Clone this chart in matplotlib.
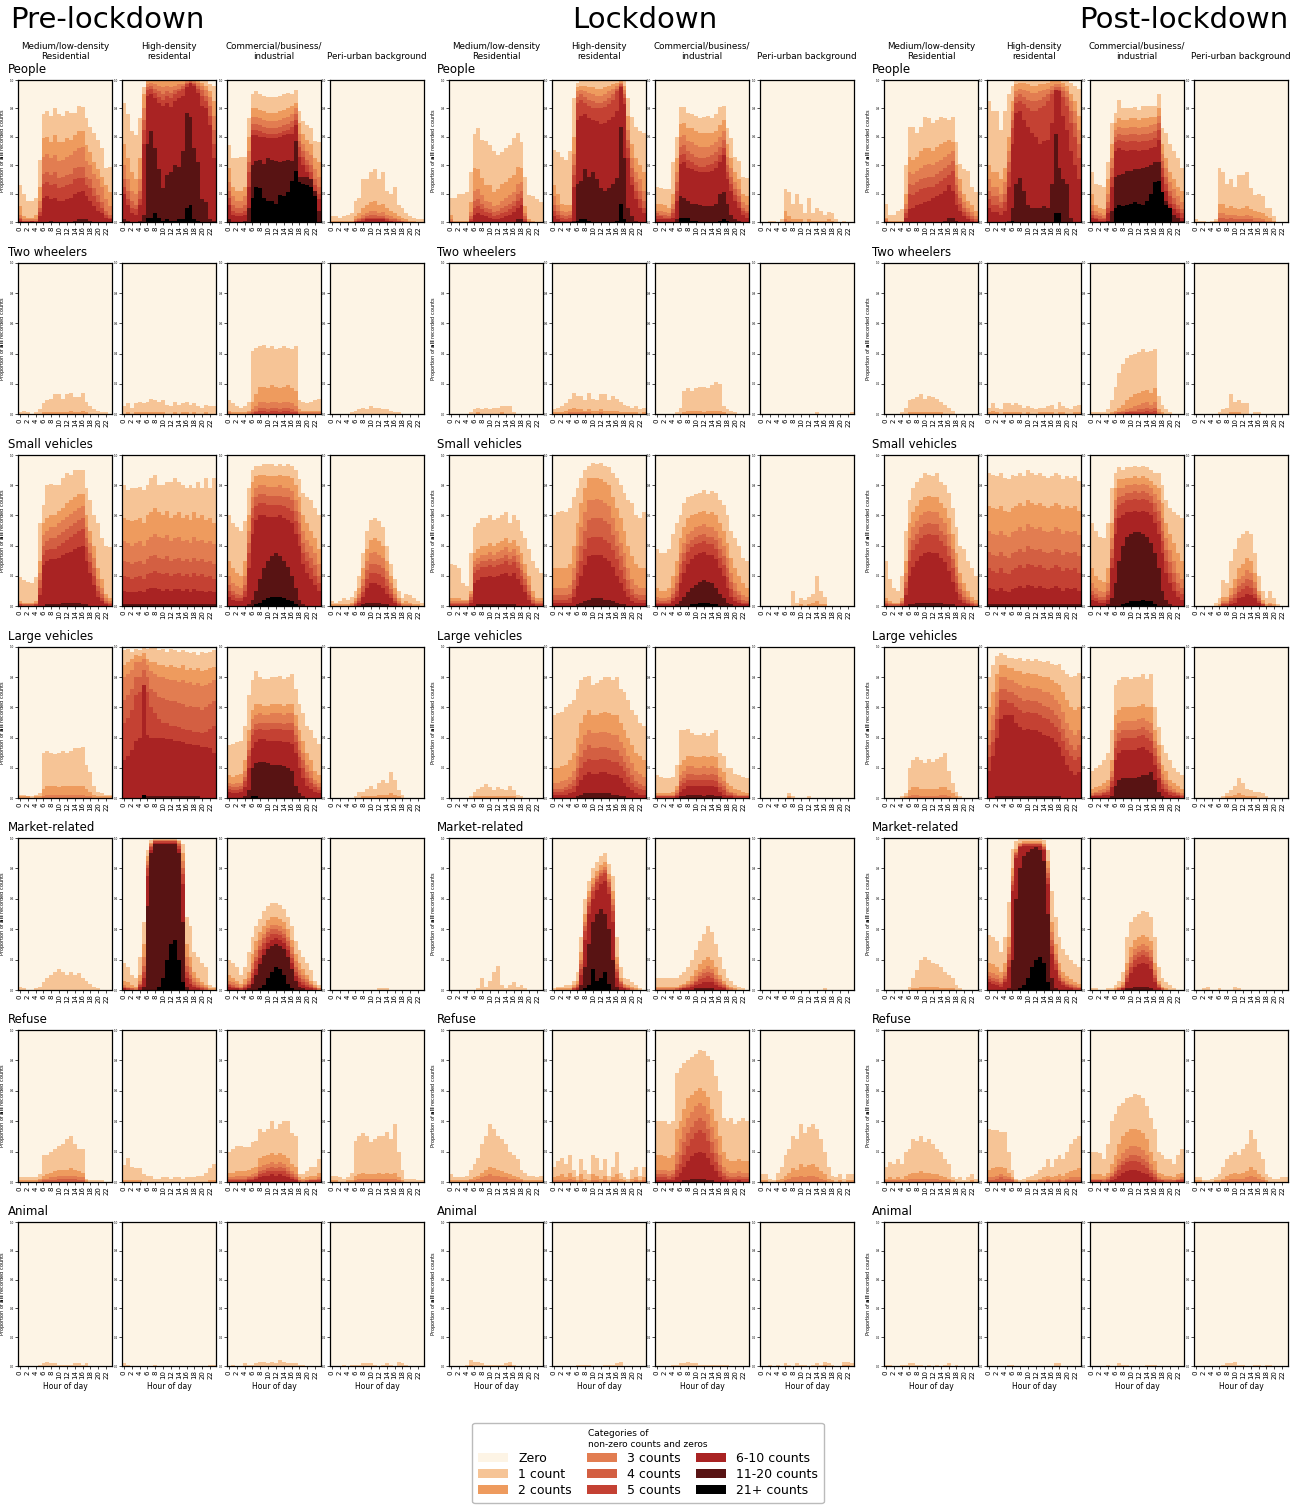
import matplotlib
matplotlib.use("Agg")
import matplotlib.pyplot as plt
from matplotlib.patches import Patch
import numpy as np

HOURS = list(range(24))
CATEGORIES = ["Zero", "1 count", "2 counts", "3 counts", "4 counts", "5 counts",
              "6-10 counts", "11-20 counts", "21+ counts"]
COLOURS = ["#fdf4e5", "#f6c496", "#ee9b5e", "#e27d51", "#d35f42", "#c44133",
           "#a92323", "#581313", "#000000"]
PERIODS = ["Pre-lockdown", "Lockdown", "Post-lockdown"]
LANDUSES = ["Medium/low-density\nResidential", "High-density\nresidental",
            "Commercial/business/\nindustrial", "Peri-urban background"]
OBJECTS = ["People", "Two wheelers", "Small vehicles", "Large vehicles",
           "Market-related", "Refuse", "Animal"]

# each panel: cumulative % of counts >=1, >=2, >=3, >=4, >=5, >=6, >=11, >=21 per hour
# (missing rows are zero); panels ordered as LANDUSES

# ---------------- Pre-lockdown ----------------
PRE_PEOPLE = [
    [[26,20,15,15,17,44,76,78,75,80,76,75,78,77,77,82,81,73,67,63,58,52,38,39],
     [11,4,3,3,5,25,59,60,56,61,56,56,59,58,61,64,64,54,49,42,37,32,26,21],
     [5,2,2,2,2,15,46,48,45,47,43,44,46,47,50,52,53,43,40,34,30,25,16,11],
     [3,1,1,1,1,10,34,35,33,35,31,32,33,34,38,39,39,32,30,24,19,14,8,5],
     [2,1,1,1,1,7,27,28,26,27,24,25,26,27,30,31,31,26,24,18,14,10,5,3],
     [1,0,0,1,0,4,17,18,16,17,15,15,16,17,20,21,22,18,15,11,8,6,3,2],
     [0,0,0,0,0,0,0,0,1,0,0,0,0,0,1,2,2,2,1,0,0,0,0,0]],
    [[84,76,64,61,73,95,100,100,100,100,100,100,100,100,100,100,100,100,100,100,100,100,97,96],
     [55,45,35,30,45,90,99,99,99,99,99,99,99,99,99,99,99,100,100,99,98,96,92,85],
     [40,30,22,20,30,80,97,98,97,96,95,96,95,96,97,97,99,99,99,98,96,93,88,75],
     [30,22,15,12,22,72,95,96,94,92,90,92,91,93,94,96,98,99,98,96,93,89,82,65],
     [25,16,10,9,16,65,93,94,91,88,86,89,87,90,92,94,97,98,97,94,89,85,75,55],
     [20,12,6,5,12,55,89,90,87,84,82,84,81,85,87,89,95,98,96,91,82,80,68,45],
     [2,1,0,0,1,5,55,64,52,37,24,33,35,40,39,50,77,74,52,42,16,14,2,1],
     [0,0,0,0,0,0,3,3,6,3,1,2,1,1,2,2,10,12,2,1,0,0,0,0]],
    [[54,45,45,46,46,73,90,92,90,89,88,88,88,89,90,91,90,93,78,71,68,66,57,56],
     [38,25,22,22,25,60,80,80,79,78,77,77,77,78,79,80,82,84,70,62,58,55,45,42],
     [28,18,15,15,18,50,74,74,73,72,71,71,71,72,73,74,76,80,62,55,50,47,37,32],
     [22,12,10,10,12,42,69,69,68,67,66,66,66,67,68,69,71,76,57,50,44,40,30,25],
     [17,8,6,6,8,35,65,65,64,63,62,62,62,63,64,65,67,72,53,46,40,35,26,20],
     [12,5,4,4,5,25,61,61,60,60,59,59,59,60,61,62,62,68,46,40,35,30,22,16],
     [2,0,0,0,1,10,40,43,44,41,45,44,43,42,43,44,43,57,32,32,32,31,28,8],
     [0,0,0,0,0,0,17,25,24,17,15,15,13,19,18,21,29,36,28,27,26,25,18,0]],
    [[4,4,3,4,5,6,15,17,30,30,35,37,30,35,22,20,25,12,10,6,4,3,2,2],
     [1,1,1,1,1,1,4,6,10,12,14,15,12,13,10,8,6,4,3,2,1,1,0,0],
     [0,0,0,0,0,0,2,3,5,6,8,8,6,7,5,4,3,2,1,1,0,0,0,0],
     [0,0,0,0,0,0,1,2,3,4,5,5,4,4,3,2,2,1,1,0,0,0,0,0],
     [0,0,0,0,0,0,1,1,2,3,3,3,3,3,2,1,1,1,0,0,0,0,0,0],
     [0,0,0,0,0,0,0,1,1,2,2,2,2,2,1,1,0,0,0,0,0,0,0,0]],
]
PRE_TWO_WHEELERS = [
    [[1,2,1,0,1,3,7,9,10,13,13,10,13,14,11,11,14,8,5,3,2,1,1,0],
     [0,0,0,0,0,0,1,1,1,1,1,1,1,2,1,1,2,1,0,0,0,0,0,0]],
    [[5,7,4,7,8,7,8,10,9,8,9,6,5,8,6,7,8,6,7,5,4,6,5,5],
     [0,1,0,1,1,1,1,1,1,1,1,0,0,1,0,1,1,0,1,0,0,1,0,0]],
    [[9,7,5,4,5,8,42,44,45,46,44,45,43,44,45,44,43,45,9,8,7,8,9,10],
     [2,1,1,1,1,2,8,13,18,18,17,19,18,17,18,19,17,15,3,2,2,2,2,2],
     [1,0,0,0,0,1,3,5,8,8,7,8,8,7,8,8,7,5,1,1,1,1,1,1],
     [0,0,0,0,0,0,1,2,4,4,3,4,4,3,4,4,3,2,0,0,0,0,0,0],
     [0,0,0,0,0,0,0,1,2,2,1,2,2,1,2,2,1,1,0,0,0,0,0,0]],
    [[0,0,0,0,0,1,2,3,4,3,5,4,4,3,3,2,1,1,0,0,0,0,0,0]],
]
PRE_SMALL_VEHICLES = [
    [[19,17,16,15,19,55,67,80,81,80,80,85,88,87,90,90,90,78,70,60,55,45,40,39],
     [3,2,2,2,3,30,55,58,60,60,63,65,68,70,72,74,74,60,50,40,25,18,8,5],
     [2,1,1,1,2,22,47,50,52,52,55,57,59,61,63,65,66,52,42,32,18,12,5,3],
     [1,1,1,1,1,17,40,43,45,45,47,49,51,53,55,57,58,45,35,25,13,8,3,2],
     [1,0,0,0,1,12,34,37,38,38,40,42,44,46,48,50,51,39,29,20,10,5,2,1],
     [0,0,0,0,0,7,27,30,31,31,32,34,35,36,38,39,40,30,22,14,6,3,1,0],
     [0,0,0,0,0,0,0,1,1,1,1,2,2,2,2,2,1,1,0,0,0,0,0,0]],
    [[80,77,78,78,79,77,80,85,87,80,80,82,82,85,82,80,78,80,78,82,78,85,78,85],
     [58,57,56,57,58,55,60,62,65,62,60,63,58,60,62,58,60,57,62,58,60,57,58,55],
     [43,42,40,42,43,40,44,46,48,46,45,47,43,45,46,43,44,42,46,43,44,42,43,41],
     [30,29,28,29,30,28,31,33,34,32,31,33,30,31,32,30,31,29,32,30,31,29,30,28],
     [20,19,18,19,20,18,21,22,23,22,21,22,20,21,22,20,21,19,22,20,21,19,20,18],
     [10,9,9,9,10,9,11,12,12,11,10,11,10,11,11,10,11,9,11,10,10,9,10,9],
     [1,1,1,1,1,1,1,1,1,1,1,1,1,1,1,1,1,1,1,1,1,1,1,1]],
    [[60,55,52,50,56,78,90,93,93,94,94,94,93,94,93,94,93,90,84,75,72,70,65,60],
     [30,25,22,20,30,60,82,86,87,87,86,86,86,87,86,86,85,80,72,60,55,50,45,38],
     [20,15,13,12,20,50,72,78,80,80,79,79,79,80,78,78,76,70,62,50,44,40,35,28],
     [14,10,8,7,14,42,65,72,74,74,73,73,73,73,72,72,70,63,55,42,36,32,27,20],
     [10,7,5,5,10,35,58,66,68,68,67,67,67,67,66,65,63,56,48,35,30,25,20,15],
     [6,4,3,3,6,25,48,57,60,60,59,59,59,60,58,57,55,48,40,28,22,18,14,10],
     [0,0,0,0,0,1,4,10,18,25,30,33,35,33,30,26,20,12,4,1,0,0,0,0],
     [0,0,0,0,0,0,0,1,2,4,5,6,6,6,5,4,3,1,0,0,0,0,0,0]],
    [[3,2,3,5,4,6,10,20,35,50,57,58,56,52,40,28,18,10,5,8,7,5,3,2],
     [1,1,1,1,1,2,5,12,25,38,44,45,43,40,30,20,12,5,2,3,2,1,1,0],
     [0,0,0,0,0,1,3,8,18,30,35,36,34,32,23,15,8,3,1,1,1,0,0,0],
     [0,0,0,0,0,0,2,5,13,24,28,28,27,25,18,11,5,2,0,0,0,0,0,0],
     [0,0,0,0,0,0,1,3,9,18,22,22,21,19,13,8,3,1,0,0,0,0,0,0],
     [0,0,0,0,0,0,0,2,6,12,15,15,14,12,8,5,2,0,0,0,0,0,0,0],
     [0,0,0,0,0,0,0,0,1,2,2,2,2,1,1,0,0,0,0,0,0,0,0,0]],
]
PRE_LARGE_VEHICLES = [
    [[2,2,1,1,2,3,30,31,30,29,30,31,30,31,33,33,34,22,17,8,4,3,2,2],
     [1,1,1,0,1,1,6,8,8,8,7,8,8,8,8,8,8,6,4,2,1,1,1,1],
     [0,0,0,0,0,0,1,2,2,2,2,2,2,2,2,2,2,1,1,0,0,0,0,0]],
    [[98,99,97,99,98,100,99,100,100,98,99,97,99,98,97,98,97,96,97,95,97,96,97,98],
     [88,90,92,95,94,96,92,90,90,88,88,87,88,87,86,88,85,86,85,86,84,85,86,87],
     [80,82,85,90,90,92,88,84,82,80,80,79,78,78,77,78,76,77,75,76,74,75,76,78],
     [65,68,72,80,80,85,80,72,70,67,66,65,64,64,63,62,60,61,60,60,58,60,62,64],
     [50,53,58,68,70,75,70,60,56,52,50,50,48,48,47,46,45,45,44,44,43,44,46,48],
     [25,28,32,38,40,92,42,40,40,40,40,39,39,38,38,37,36,36,35,35,34,34,33,30],
     [0,0,0,0,0,2,1,1,1,1,1,1,1,1,1,1,1,1,1,1,0,0,0,0],
     [0,0,0,0,0,6,0,0,0,0,0,0,0,0,0,0,0,0,0,0,0,0,0,0]],
    [[35,36,37,38,48,68,78,84,80,79,79,80,80,81,79,80,82,72,62,56,48,45,40,36],
     [15,14,15,16,25,45,58,62,62,61,61,62,62,62,61,62,62,55,45,38,30,25,18,15],
     [10,9,10,10,18,38,52,55,56,55,55,56,56,56,55,56,56,48,38,30,22,18,12,10],
     [8,7,7,8,14,32,46,49,50,50,50,50,50,50,49,50,50,42,32,25,17,13,9,7],
     [6,5,5,6,11,28,42,45,46,45,45,46,46,46,45,45,45,37,27,20,13,10,7,5],
     [4,3,3,4,7,20,33,37,39,39,38,38,38,38,37,37,36,30,20,13,8,6,4,3],
     [0,0,0,0,1,5,20,23,24,24,23,22,22,22,21,20,18,8,3,1,0,0,0,0],
     [0,0,0,0,0,0,1,1,0,0,0,0,0,0,0,0,0,0,0,0,0,0,0,0]],
    [[0,0,0,0,0,0,1,4,4,6,8,6,10,12,10,17,12,5,2,0,0,0,0,0],
     [0,0,0,0,0,0,0,0,1,1,1,1,2,2,2,3,2,1,0,0,0,0,0,0]],
]
PRE_MARKET = [
    [[2,1,0,0,1,2,5,8,10,12,14,12,10,12,10,11,8,6,4,2,1,0,0,0]],
    [[18,15,10,8,22,45,92,99,100,100,100,100,100,100,99,96,48,42,25,22,18,15,3,2],
     [6,5,3,2,10,30,88,97,99,99,99,99,99,99,98,90,30,22,12,8,5,3,1,1],
     [3,2,1,1,6,22,85,96,99,99,99,99,99,99,97,85,22,15,8,5,3,2,0,0],
     [2,1,1,0,4,16,82,95,98,98,98,98,98,98,96,80,16,10,5,3,2,1,0,0],
     [1,1,0,0,3,12,80,94,98,98,98,98,98,98,95,76,12,7,3,2,1,0,0,0],
     [1,0,0,0,2,8,75,92,97,97,97,97,97,97,93,70,8,4,2,1,0,0,0,0],
     [0,0,0,0,0,2,55,90,96,96,96,96,96,96,90,45,2,0,0,0,0,0,0,0],
     [0,0,0,0,0,0,0,0,0,2,8,20,30,33,20,5,0,0,0,0,0,0,0,0]],
    [[20,18,15,10,15,25,35,42,47,52,55,57,57,56,53,48,42,32,26,22,18,13,6,3],
     [10,8,6,4,7,12,24,32,38,42,46,48,48,47,45,40,33,24,18,14,10,6,3,1],
     [6,5,4,2,4,8,18,26,33,37,41,43,43,42,40,35,28,19,13,10,7,4,2,1],
     [4,3,2,1,3,6,14,22,29,34,38,40,40,39,37,32,24,15,10,7,5,3,1,0],
     [3,2,1,1,2,4,11,19,26,31,35,37,37,36,34,29,21,12,8,5,3,2,1,0],
     [2,1,1,0,1,3,8,14,21,27,31,33,34,33,31,26,18,9,5,3,2,1,0,0],
     [0,0,0,0,0,1,4,10,17,23,27,29,30,29,27,22,14,6,2,1,0,0,0,0],
     [0,0,0,0,0,0,0,0,1,3,8,12,15,14,10,4,1,0,0,0,0,0,0,0]],
    [[0,0,0,0,0,0,0,0,0,0,0,0,1,1,1,0,0,0,0,0,0,0,0,0]],
]
PRE_REFUSE = [
    [[3,3,3,3,3,5,18,18,20,22,24,25,28,30,25,22,22,2,1,1,1,1,0,0],
     [1,1,1,1,1,2,4,5,6,7,8,8,8,9,8,7,6,1,0,0,0,0,0,0],
     [0,0,0,0,0,1,2,2,3,3,4,4,4,4,4,3,3,0,0,0,0,0,0,0],
     [0,0,0,0,0,0,1,1,1,1,2,2,2,2,2,1,1,0,0,0,0,0,0,0]],
    [[11,16,10,9,9,5,4,4,2,2,3,3,2,3,3,2,3,3,3,4,4,6,9,12],
     [1,1,1,1,1,0,0,0,0,0,0,0,0,0,0,0,0,0,0,0,0,0,1,1]],
    [[20,22,24,24,23,23,26,27,35,33,35,40,35,38,40,40,32,30,5,5,7,10,10,15],
     [6,6,7,7,7,8,9,10,16,17,18,19,18,19,18,16,12,10,3,2,3,4,4,6],
     [3,3,4,4,4,4,5,6,10,11,12,13,12,13,12,10,7,5,1,1,1,2,2,3],
     [2,2,2,2,2,3,3,4,7,8,9,10,9,10,9,7,5,3,1,0,1,1,1,2],
     [1,1,1,1,1,2,2,3,5,6,7,7,7,7,7,5,3,2,0,0,0,1,1,1],
     [0,0,0,0,0,1,1,2,3,4,4,5,4,5,4,3,2,1,0,0,0,0,0,0]],
    [[4,4,3,2,3,6,27,30,32,30,26,28,30,30,33,28,38,20,8,2,2,2,1,1],
     [1,1,0,0,1,1,4,5,6,5,5,5,6,5,6,5,6,3,1,0,0,0,0,0],
     [0,0,0,0,0,0,1,2,2,2,2,2,2,2,2,2,2,1,0,0,0,0,0,0]],
]
PRE_ANIMAL = [
    [[0,0,0,0,0,1,2,3,2,2,1,1,1,1,2,2,1,2,0,0,0,0,0,0]],
    [[2,1,0,0,0,0,0,0,1,0,0,0,0,0,0,0,0,0,0,0,0,0,1,1]],
    [[0,1,0,0,2,1,1,2,3,3,2,3,2,4,3,2,2,2,1,1,0,0,0,0]],
    [[0,0,0,1,0,1,1,1,2,2,2,1,0,1,2,1,0,3,2,1,0,0,0,0]],
]

# ---------------- Lockdown ----------------
LOCK_PEOPLE = [
    [[17,17,20,20,21,35,62,66,58,57,54,50,47,49,52,54,59,63,56,32,19,18,16,14],
     [5,1,1,1,1,14,38,37,31,26,26,21,23,27,28,31,33,39,38,11,2,1,0,0],
     [2,0,0,0,0,7,22,23,19,15,14,11,12,15,17,19,21,27,28,6,1,0,0,0],
     [1,0,0,0,0,4,15,16,13,10,9,7,8,10,11,13,15,20,22,4,0,0,0,0],
     [0,0,0,0,0,2,10,11,9,7,6,4,5,6,7,9,11,15,17,2,0,0,0,0],
     [0,0,0,0,0,1,5,6,5,4,3,2,2,3,4,5,7,10,12,1,0,0,0,0],
     [0,0,0,0,0,0,0,0,0,0,0,0,0,0,0,0,0,2,2,0,0,0,0,0]],
    [[51,49,46,44,50,87,98,99,99,99,100,99,99,100,99,99,99,100,99,87,74,67,64,63],
     [26,20,13,12,12,60,95,96,96,95,95,94,94,95,96,97,98,99,96,75,55,45,40,35],
     [18,12,8,7,8,48,92,93,92,91,90,89,89,90,92,94,96,98,93,65,45,35,30,22],
     [12,8,5,4,5,40,88,90,88,86,85,84,84,85,87,90,94,97,90,58,38,28,22,15],
     [8,5,3,2,3,33,84,86,84,82,80,80,80,81,83,86,92,96,87,52,32,22,16,10],
     [4,2,1,1,1,25,72,75,76,73,72,71,69,70,72,74,78,95,83,45,26,16,10,6],
     [0,0,0,0,0,1,27,29,37,32,35,30,24,22,24,27,31,67,45,10,4,1,0,0],
     [0,0,0,0,0,0,1,2,2,1,0,0,0,0,0,0,1,13,2,0,0,0,0,0]],
    [[25,24,23,23,42,60,81,81,77,76,75,73,74,75,73,76,81,82,66,59,46,43,32,31],
     [13,13,12,10,20,45,69,70,66,66,64,63,63,63,63,64,68,72,55,45,35,30,20,18],
     [8,8,7,6,13,35,60,61,57,56,54,53,53,53,54,56,60,64,46,38,28,23,14,12],
     [6,5,5,4,9,28,53,54,50,48,46,45,45,46,47,49,53,58,40,32,23,18,10,8],
     [4,4,3,3,6,22,47,48,44,42,40,39,39,40,41,43,47,52,35,27,19,14,8,6],
     [2,2,2,2,3,15,41,42,38,37,36,35,35,35,36,38,42,47,30,22,15,10,5,3],
     [0,0,0,0,0,2,18,17,15,13,13,12,11,11,11,13,20,21,13,5,2,1,0,0],
     [0,0,0,0,0,0,3,3,3,1,1,0,0,0,0,0,1,2,1,0,0,0,0,0]],
    [[0,0,1,1,0,2,23,21,13,20,13,6,17,6,10,8,5,7,6,2,0,1,0,0],
     [0,0,0,0,0,0,8,4,2,2,2,0,2,1,1,1,1,2,1,0,0,0,0,0],
     [0,0,0,0,0,0,2,1,0,0,0,0,0,0,0,0,0,0,0,0,0,0,0,0]],
]
LOCK_TWO_WHEELERS = [
    [[0,0,0,0,0,1,3,4,3,4,3,4,4,5,5,5,1,0,0,0,0,0,0,0],
     [0,0,0,0,0,0,0,1,0,0,0,0,0,1,0,0,0,0,0,0,0,0,0,0]],
    [[3,4,5,7,10,14,12,12,9,14,10,9,13,13,9,12,10,8,6,5,4,5,3,4],
     [1,1,1,2,3,4,3,3,2,3,2,2,3,2,2,2,2,1,1,1,1,1,0,1],
     [0,0,0,0,1,1,1,1,1,1,0,0,1,0,0,0,0,0,0,0,0,0,0,0]],
    [[0,0,0,0,0,1,4,15,17,15,17,18,18,17,19,21,20,5,3,2,1,0,0,0],
     [0,0,0,0,0,0,0,1,2,2,2,2,1,2,2,2,2,1,0,0,0,0,0,0]],
    [[0,0,0,0,0,0,0,0,0,0,0,0,0,0,1,0,0,0,0,0,0,0,0,1]],
]
LOCK_SMALL_VEHICLES = [
    [[28,27,25,15,13,35,52,55,58,58,60,57,58,60,62,55,60,57,50,45,38,30,25,22],
     [5,5,5,4,4,10,35,38,40,40,42,40,42,43,45,42,44,40,35,28,20,10,5,5],
     [3,3,3,3,3,8,30,32,34,34,36,34,36,37,39,36,38,34,28,22,14,6,3,3],
     [2,2,2,2,2,6,26,28,30,30,31,30,31,32,34,31,33,29,24,18,10,4,2,2],
     [1,1,1,1,1,4,22,24,26,26,27,26,27,28,30,27,29,25,20,14,7,2,1,1],
     [0,0,0,0,0,2,15,17,19,19,20,19,20,21,22,20,22,18,14,9,4,1,0,0],
     [0,0,0,0,0,0,0,1,1,1,1,1,1,1,1,1,1,0,0,0,0,0,0,0]],
    [[60,62,63,62,65,72,78,85,90,93,95,94,95,93,92,88,85,80,75,70,68,60,58,62],
     [25,25,25,25,28,40,55,68,78,85,85,85,84,82,80,72,65,58,50,40,33,28,25,25],
     [12,12,12,12,14,25,40,52,62,70,70,71,70,68,66,58,50,42,35,25,18,14,12,12],
     [7,7,7,7,8,17,30,40,50,57,58,58,58,56,54,47,40,33,26,17,11,8,7,7],
     [4,4,4,4,5,11,22,30,38,45,46,46,46,44,42,37,31,24,18,11,7,5,4,4],
     [2,2,2,2,2,6,13,20,27,33,34,34,34,32,30,26,20,15,10,6,3,2,2,2],
     [0,0,0,0,0,0,1,2,3,4,5,5,5,4,4,3,2,1,1,0,0,0,0,0]],
    [[38,35,35,38,48,55,60,68,72,73,74,75,77,74,76,75,70,67,60,50,45,40,32,30],
     [12,10,10,12,20,30,45,52,58,60,61,62,63,61,62,60,55,50,42,32,25,20,15,12],
     [6,5,5,6,12,20,35,42,48,50,52,53,54,52,52,50,45,40,32,22,15,10,7,6],
     [4,3,3,4,8,15,28,35,41,44,46,47,48,46,46,44,38,33,25,16,10,7,4,3],
     [2,2,2,2,5,10,22,30,36,39,41,42,43,41,41,38,32,27,19,11,6,4,2,2],
     [1,1,1,1,3,6,15,22,28,31,34,35,36,34,34,31,25,20,12,6,3,2,1,1],
     [0,0,0,0,0,1,3,6,9,12,14,16,17,16,15,12,8,5,2,1,0,0,0,0],
     [0,0,0,0,0,0,0,0,0,1,1,2,2,2,1,1,0,0,0,0,0,0,0,0]],
    [[0,0,0,0,0,0,0,0,10,2,5,4,6,8,20,10,6,0,0,0,0,0,0,0],
     [0,0,0,0,0,0,0,0,0,0,1,0,1,2,3,1,1,0,0,0,0,0,0,0]],
]
LOCK_LARGE_VEHICLES = [
    [[0,0,0,0,0,1,4,6,7,9,7,5,7,6,5,8,5,2,1,0,0,0,0,0],
     [0,0,0,0,0,0,1,1,1,1,1,1,1,1,1,1,1,0,0,0,0,0,0,0]],
    [[55,56,57,60,62,65,72,78,80,81,75,76,78,80,80,78,80,72,70,65,58,55,50,48],
     [20,20,21,22,25,30,40,50,55,58,55,55,56,57,56,55,55,50,45,40,35,30,28,25],
     [10,10,11,12,14,18,28,36,42,45,43,43,44,44,43,42,42,37,33,28,23,18,16,14],
     [6,6,6,7,9,12,20,27,32,35,33,33,34,34,33,32,32,28,24,20,15,11,9,8],
     [4,4,4,5,6,8,14,20,24,26,25,25,26,26,25,24,24,21,18,14,10,7,6,5],
     [2,2,2,2,3,4,8,12,15,17,16,16,17,17,16,15,15,13,10,7,5,3,2,2],
     [0,0,0,0,0,0,1,2,3,3,3,3,3,3,3,2,2,1,1,0,0,0,0,0]],
    [[15,14,13,13,14,22,45,45,46,43,42,42,43,41,43,45,30,28,20,20,16,15,14,13],
     [3,3,3,3,4,8,22,25,28,28,27,27,28,27,28,27,20,17,10,8,6,5,4,3],
     [2,2,2,2,2,5,15,18,21,21,20,20,21,20,21,20,14,11,6,4,3,2,2,2],
     [1,1,1,1,1,3,11,13,16,16,15,15,16,15,16,15,10,8,4,3,2,1,1,1],
     [1,1,1,1,1,2,8,10,12,12,12,12,12,12,12,11,7,5,2,2,1,1,1,1],
     [0,0,0,0,0,1,4,6,8,8,8,8,8,8,8,7,4,2,1,1,0,0,0,0],
     [0,0,0,0,0,0,1,1,2,2,2,2,1,2,2,1,1,0,0,0,0,0,0,0]],
    [[0,0,0,0,0,0,0,3,1,0,0,0,1,0,0,0,0,0,0,0,0,0,0,0],
     [0,0,0,0,0,0,0,1,0,0,0,0,0,0,0,0,0,0,0,0,0,0,0,0]],
]
LOCK_MARKET = [
    [[0,0,0,0,0,0,0,1,8,2,6,12,16,3,1,3,5,2,3,1,0,0,0,0]],
    [[1,2,2,3,3,6,12,35,60,72,80,84,88,90,83,75,35,15,8,7,5,3,1,0],
     [0,1,1,1,1,3,6,25,50,65,74,78,82,84,76,65,22,8,4,3,2,1,0,0],
     [0,0,0,0,0,2,4,20,45,61,70,75,79,81,73,60,17,6,3,2,1,0,0,0],
     [0,0,0,0,0,1,3,17,42,58,68,73,77,79,71,56,14,5,2,1,0,0,0,0],
     [0,0,0,0,0,1,2,14,39,55,65,71,75,77,68,52,12,4,1,1,0,0,0,0],
     [0,0,0,0,0,0,1,10,33,50,60,66,70,72,63,45,8,2,1,0,0,0,0,0],
     [0,0,0,0,0,0,0,3,15,30,45,50,53,50,40,20,2,0,0,0,0,0,0,0],
     [0,0,0,0,0,0,0,0,1,3,14,6,8,12,4,0,0,0,0,0,0,0,0,0]],
    [[8,8,8,8,8,8,10,12,15,20,26,32,37,42,38,30,22,14,8,6,3,2,1,0],
     [2,2,2,2,2,2,3,4,6,9,13,17,20,22,20,15,10,6,3,2,1,0,0,0],
     [1,1,1,1,1,1,2,3,4,6,9,12,14,16,14,10,7,4,2,1,0,0,0,0],
     [0,0,0,0,0,1,1,2,3,4,6,9,11,12,11,7,5,3,1,0,0,0,0,0],
     [0,0,0,0,0,0,1,1,2,3,5,7,8,9,8,5,3,2,0,0,0,0,0,0],
     [0,0,0,0,0,0,0,1,1,2,3,4,5,5,5,3,2,1,0,0,0,0,0,0],
     [0,0,0,0,0,0,0,0,0,0,1,1,1,1,1,0,0,0,0,0,0,0,0,0]],
    [[0,0,0,0,0,0,0,0,0,0,0,0,0,0,0,0,1,0,0,0,0,0,0,0]],
]
LOCK_REFUSE = [
    [[5,3,3,3,4,8,12,16,25,30,38,35,30,28,25,20,18,15,8,6,4,4,3,4],
     [1,1,1,1,1,2,3,4,6,8,10,9,8,7,6,5,4,3,2,1,1,1,1,1],
     [0,0,0,0,0,1,1,2,3,4,5,4,4,3,3,2,2,1,1,0,0,0,0,0]],
    [[10,14,16,12,18,8,4,15,8,5,18,16,8,15,4,10,20,6,3,2,8,10,4,10],
     [3,4,5,3,6,3,1,5,2,1,5,4,2,4,1,3,5,2,1,0,2,3,1,3],
     [1,1,1,1,2,1,0,1,0,0,1,1,0,1,0,1,1,0,0,0,0,1,0,1]],
    [[40,40,40,38,40,72,75,78,80,82,84,87,86,83,80,70,60,42,40,42,38,40,42,40],
     [18,18,17,16,18,35,40,48,55,57,60,62,60,56,48,40,30,20,15,14,14,15,14,14],
     [8,8,8,7,8,20,28,36,42,46,50,52,50,45,36,28,18,10,7,6,6,7,6,6],
     [5,5,5,4,5,12,18,26,32,36,40,42,40,35,26,19,11,6,4,3,3,4,3,3],
     [3,3,3,2,3,8,12,18,24,28,32,34,32,27,19,13,7,4,2,2,2,2,2,2],
     [1,1,1,1,1,3,6,10,14,17,19,20,19,16,11,7,3,1,1,0,0,1,0,0],
     [0,0,0,0,0,0,0,1,1,2,2,2,2,1,1,0,0,0,0,0,0,0,0,0]],
    [[5,5,2,1,6,10,18,22,30,28,38,32,36,38,35,28,20,10,4,3,5,2,5,5],
     [1,1,0,0,1,2,4,6,9,8,12,10,11,12,10,7,5,2,1,0,1,0,1,1],
     [0,0,0,0,0,0,1,2,3,3,4,3,4,4,3,2,1,0,0,0,0,0,0,0]],
]
LOCK_ANIMAL = [
    [[0,0,0,0,1,4,3,3,2,1,1,1,1,1,2,3,1,0,0,0,0,0,0,0],
     [0,0,0,0,0,1,0,0,0,0,0,0,0,0,0,1,0,0,0,0,0,0,0,0]],
    [[0,0,0,0,0,0,1,1,1,1,0,0,0,1,1,1,2,3,0,0,0,0,0,0]],
    [[0,0,0,0,1,1,2,2,3,2,2,1,1,1,1,1,1,1,1,0,0,0,0,0]],
    [[0,0,1,0,1,0,2,1,0,2,1,1,0,1,2,1,3,2,1,0,0,3,3,2],
     [0,0,0,0,0,0,0,0,0,0,0,0,0,0,0,0,1,0,0,0,0,1,1,0]],
]

# ---------------- Post-lockdown ----------------
POST_PEOPLE = [
    [[13,5,5,8,9,40,67,67,63,67,74,73,70,72,74,73,72,74,56,41,37,36,25,21],
     [3,1,1,1,1,20,46,44,46,50,52,52,50,53,55,56,58,56,40,30,20,15,12,8],
     [2,0,0,0,0,13,35,34,36,38,40,41,40,42,44,46,48,50,32,22,14,10,7,4],
     [1,0,0,0,0,9,27,26,28,30,31,32,32,34,36,38,40,43,26,17,10,7,4,2],
     [0,0,0,0,0,6,20,19,21,23,24,25,25,27,29,31,33,36,20,13,7,4,2,1],
     [0,0,0,0,0,3,9,10,12,13,14,15,17,18,20,22,26,22,12,8,4,2,1,0],
     [0,0,0,0,0,0,0,0,0,0,0,0,0,0,0,1,3,3,1,0,0,0,0,0]],
    [[85,78,78,65,78,90,96,100,100,100,100,100,100,100,100,100,100,100,100,100,100,98,96,94],
     [40,35,35,30,38,60,85,97,98,98,97,96,96,97,97,98,99,99,99,98,96,90,85,75],
     [30,25,25,20,28,50,78,92,94,93,92,91,91,92,93,94,96,97,97,95,92,85,78,65],
     [22,18,18,14,20,42,72,88,90,88,86,85,85,86,88,90,93,95,95,92,88,78,70,55],
     [16,12,12,10,14,35,66,84,85,83,80,78,78,80,82,85,90,93,93,88,82,70,60,45],
     [10,7,7,5,8,25,55,77,78,72,67,63,60,55,57,58,70,95,92,75,65,50,40,30],
     [0,0,0,0,0,1,10,27,31,22,12,10,10,10,11,10,27,62,38,30,27,3,0,0],
     [0,0,0,0,0,0,1,0,0,0,0,0,0,0,0,0,0,6,6,0,0,0,0,0]],
    [[35,27,26,25,42,70,77,86,80,80,80,81,79,82,82,82,82,90,66,63,55,50,45,38],
     [20,12,10,9,30,55,70,73,72,72,73,73,72,73,73,74,74,80,55,45,35,30,25,22],
     [12,8,6,5,20,45,65,67,66,66,67,67,66,67,67,68,69,75,48,38,28,23,18,14],
     [8,5,4,3,14,38,60,62,61,61,62,62,61,62,62,63,64,70,43,32,22,17,12,9],
     [5,3,2,2,10,32,56,58,57,56,57,57,56,57,57,58,59,65,38,27,18,13,9,6],
     [3,2,1,1,6,25,50,52,51,50,51,51,50,51,51,52,53,58,32,22,13,9,6,3],
     [0,0,0,0,1,8,32,33,34,36,36,37,37,38,39,40,42,42,21,15,10,5,3,1],
     [0,0,0,0,0,0,10,12,11,12,13,14,13,12,15,20,28,29,21,12,10,0,0,0]],
    [[2,1,1,0,1,2,38,35,27,30,25,33,33,35,24,19,20,18,10,10,4,0,0,0],
     [0,0,0,0,0,1,13,13,10,11,10,9,10,11,9,8,7,6,4,3,1,0,0,0],
     [0,0,0,0,0,0,6,6,5,5,5,4,4,5,4,3,3,2,1,1,0,0,0,0],
     [0,0,0,0,0,0,3,3,2,3,2,2,2,2,2,1,1,1,0,0,0,0,0,0]],
]
POST_TWO_WHEELERS = [
    [[0,0,0,0,1,4,9,10,11,13,10,12,11,10,8,6,4,2,0,0,0,0,0,0],
     [0,0,0,0,0,0,1,1,1,1,1,1,1,1,1,0,0,0,0,0,0,0,0,0]],
    [[4,7,4,3,7,7,6,7,6,4,5,4,3,4,4,5,6,3,8,5,4,3,5,6],
     [1,2,1,0,1,1,1,1,1,0,1,0,0,1,1,1,1,0,1,1,0,0,1,1]],
    [[1,1,1,1,3,9,18,27,33,37,39,40,41,43,41,42,43,12,6,3,1,0,0,0],
     [0,0,0,0,0,1,2,4,6,9,11,13,14,15,16,14,17,3,1,0,0,0,0,0],
     [0,0,0,0,0,0,1,1,2,3,4,5,6,7,8,6,8,1,0,0,0,0,0,0],
     [0,0,0,0,0,0,0,1,1,1,2,2,3,3,4,3,4,0,0,0,0,0,0,0],
     [0,0,0,0,0,0,0,0,0,1,1,1,1,1,2,1,2,0,0,0,0,0,0,0]],
    [[0,0,0,0,0,0,1,3,4,13,8,9,7,7,0,1,1,0,0,0,0,0,0,0],
     [0,0,0,0,0,0,0,0,0,1,1,1,0,0,0,0,0,0,0,0,0,0,0,0]],
]
POST_SMALL_VEHICLES = [
    [[30,18,12,10,20,50,70,78,82,85,88,87,86,88,82,80,75,65,52,40,38,30,25,20],
     [5,3,2,2,5,30,55,62,66,70,72,73,72,72,68,65,58,48,35,22,15,10,6,4],
     [3,2,1,1,3,22,45,52,56,60,62,63,62,62,58,55,48,38,26,15,10,6,3,2],
     [2,1,1,1,2,16,37,44,48,52,54,55,54,54,50,47,40,31,20,11,6,4,2,1],
     [1,0,0,0,1,12,30,37,41,45,47,48,47,47,43,40,33,25,15,8,4,2,1,0],
     [0,0,0,0,0,7,20,26,30,33,35,36,35,35,32,29,23,16,9,4,2,1,0,0],
     [0,0,0,0,0,0,1,1,2,2,2,2,2,2,2,1,1,1,0,0,0,0,0,0]],
    [[88,87,86,88,85,84,87,86,88,86,90,88,87,88,86,85,86,88,87,84,86,85,86,83],
     [66,65,64,66,63,62,65,66,68,66,70,68,67,68,66,65,66,68,67,64,66,65,66,63],
     [50,48,47,50,47,46,49,50,52,50,54,52,51,52,50,49,50,52,51,48,50,49,50,47],
     [36,34,33,36,33,32,35,36,38,36,40,38,37,38,36,35,36,38,37,34,36,35,36,33],
     [25,23,22,25,22,21,24,25,27,25,28,27,26,27,25,24,25,27,26,23,25,24,25,22],
     [12,11,10,12,10,9,11,12,13,12,14,13,12,13,12,11,12,13,12,10,12,11,12,10],
     [1,1,1,1,1,1,1,1,1,1,1,1,1,1,1,1,1,1,1,1,1,1,1,1]],
    [[55,50,46,45,55,78,88,92,90,92,92,93,92,93,92,90,88,88,80,70,65,62,60,58],
     [25,20,17,16,25,55,78,84,84,85,85,86,85,86,85,83,80,78,68,55,48,42,35,30],
     [15,12,10,9,15,45,70,78,78,80,80,81,80,81,80,78,74,70,58,45,37,30,22,18],
     [10,8,6,6,10,38,64,72,73,75,75,76,75,76,75,73,68,63,50,37,29,22,15,12],
     [7,5,4,4,7,32,58,67,68,70,70,71,70,71,70,68,62,56,43,30,22,16,10,8],
     [4,3,2,2,4,25,48,58,60,62,62,63,62,63,62,60,55,48,35,22,15,10,6,4],
     [0,0,0,0,1,5,15,30,40,46,48,49,49,48,46,42,35,25,10,4,1,0,0,0],
     [0,0,0,0,0,0,0,0,1,2,3,3,3,4,3,3,1,0,0,0,0,0,0,0]],
    [[0,0,0,0,0,2,5,17,15,30,38,45,48,50,48,35,20,10,5,10,5,1,0,0],
     [0,0,0,0,0,0,1,6,6,12,18,25,28,32,30,22,10,4,1,2,1,0,0,0],
     [0,0,0,0,0,0,0,3,3,7,12,18,20,24,22,16,7,2,0,1,0,0,0,0],
     [0,0,0,0,0,0,0,2,2,5,8,13,15,18,17,12,5,1,0,0,0,0,0,0],
     [0,0,0,0,0,0,0,1,1,3,5,9,11,13,12,8,3,1,0,0,0,0,0,0],
     [0,0,0,0,0,0,0,0,0,1,2,5,6,8,7,5,2,0,0,0,0,0,0,0]],
]
POST_LARGE_VEHICLES = [
    [[0,0,0,0,1,3,20,25,27,25,23,26,24,26,27,30,18,10,4,1,0,0,0,0],
     [0,0,0,0,0,1,5,7,7,6,6,6,6,6,7,7,5,3,1,0,0,0,0,0],
     [0,0,0,0,0,0,1,2,2,1,1,1,1,1,2,2,1,0,0,0,0,0,0,0]],
    [[80,88,94,96,95,93,93,92,93,91,92,91,92,91,90,91,89,88,89,85,82,80,81,83],
     [60,70,82,88,88,86,86,84,84,82,83,82,82,81,80,80,78,76,75,70,65,60,58,60],
     [45,55,70,80,80,78,78,76,75,73,74,73,73,72,70,70,68,65,62,57,50,45,42,45],
     [35,45,60,72,72,70,70,68,66,64,65,64,64,63,61,60,58,55,52,46,40,35,32,35],
     [27,37,52,65,65,63,63,60,58,56,57,56,56,55,53,52,50,47,44,38,32,28,25,27],
     [18,28,40,52,55,55,55,50,47,45,46,45,45,44,42,41,40,37,34,28,22,18,15,17],
     [0,0,1,1,1,1,1,1,1,1,1,1,1,1,1,1,1,1,1,0,0,0,0,0]],
    [[18,20,22,25,30,45,75,78,80,80,79,80,80,82,79,82,60,47,35,30,25,20,17,15],
     [6,7,8,10,12,25,55,58,60,60,60,60,61,62,60,60,45,35,22,18,12,10,8,6],
     [3,4,5,6,8,18,45,50,51,51,51,51,52,53,51,50,38,28,16,12,8,6,4,3],
     [2,3,3,4,5,14,38,43,45,45,45,45,46,47,45,43,33,23,12,9,5,4,3,2],
     [1,2,2,3,4,11,33,38,40,40,40,40,41,42,40,38,28,19,9,6,4,3,2,1],
     [1,1,1,2,2,7,25,30,32,32,32,32,33,34,32,30,22,13,6,4,2,1,1,0],
     [0,0,0,0,0,1,8,12,13,13,13,13,14,15,15,17,12,4,1,0,0,0,0,0]],
    [[0,0,0,0,0,0,0,1,3,5,8,13,10,6,5,4,4,3,1,0,0,0,0,0],
     [0,0,0,0,0,0,0,0,1,1,2,3,2,1,1,1,0,0,0,0,0,0,0,0]],
]
POST_MARKET = [
    [[0,0,0,0,0,0,2,8,13,20,22,20,18,17,15,12,10,8,3,1,0,0,0,0],
     [0,0,0,0,0,0,0,1,1,2,2,2,2,2,1,1,1,1,0,0,0,0,0,0]],
    [[36,35,32,25,35,58,93,98,100,100,100,100,100,100,99,92,65,48,35,27,23,20,17,15],
     [18,17,15,12,18,35,80,93,97,98,98,98,98,98,96,85,45,30,18,12,9,7,5,4],
     [12,11,10,8,12,28,75,91,96,97,97,97,97,97,95,80,38,24,13,8,6,4,3,2],
     [9,8,7,5,9,24,72,90,95,96,96,96,96,96,94,77,33,20,10,6,4,3,2,1],
     [7,6,5,4,7,20,69,89,95,96,96,96,96,96,93,74,29,17,8,5,3,2,1,1],
     [5,4,3,2,5,15,65,87,94,95,95,95,95,95,92,70,24,13,6,3,2,1,0,0],
     [0,0,0,0,0,1,20,60,80,88,91,93,94,92,85,50,8,1,0,0,0,0,0,0],
     [0,0,0,0,0,0,0,0,1,3,8,15,20,22,18,5,0,0,0,0,0,0,0,0]],
    [[1,1,0,0,1,1,3,6,12,35,45,48,50,52,51,48,35,15,8,5,3,1,0,0],
     [0,0,0,0,0,0,1,2,5,18,28,33,35,36,35,32,18,6,2,1,0,0,0,0],
     [0,0,0,0,0,0,0,1,3,13,22,27,29,30,29,26,13,4,1,0,0,0,0,0],
     [0,0,0,0,0,0,0,1,2,10,18,23,25,26,25,22,10,3,1,0,0,0,0,0],
     [0,0,0,0,0,0,0,0,1,8,15,20,22,23,22,19,8,2,0,0,0,0,0,0],
     [0,0,0,0,0,0,0,0,1,5,11,15,17,18,17,14,5,1,0,0,0,0,0,0],
     [0,0,0,0,0,0,0,0,0,1,1,2,2,2,2,1,0,0,0,0,0,0,0,0]],
    [[0,0,1,2,0,0,1,0,0,0,2,1,0,0,0,0,0,0,0,0,0,0,0,0]],
]
POST_REFUSE = [
    [[10,13,12,15,12,20,22,28,27,30,26,28,25,22,20,15,12,3,2,3,1,3,5,2],
     [2,3,2,3,2,4,5,6,6,7,6,6,5,5,4,3,2,1,0,0,0,0,1,0],
     [1,1,1,1,1,1,2,2,2,2,2,2,2,2,1,1,1,0,0,0,0,0,0,0]],
    [[35,34,34,33,33,20,8,2,1,2,3,4,5,8,10,15,10,15,18,15,20,25,28,30],
     [8,9,10,10,9,6,3,1,0,0,1,1,1,2,3,4,3,4,5,4,6,7,8,9],
     [3,3,4,5,4,3,2,0,0,0,0,0,0,1,1,2,1,1,2,1,2,3,3,3],
     [1,1,2,3,2,2,1,0,0,0,0,0,0,0,0,1,0,0,1,0,1,1,1,1]],
    [[20,20,19,15,25,40,45,50,52,55,56,58,57,55,50,42,35,20,18,15,15,12,18,22],
     [5,5,5,4,6,12,18,25,30,33,35,35,34,32,28,20,14,6,5,4,4,3,5,6],
     [2,2,2,2,3,6,10,15,19,22,24,24,23,21,18,12,8,3,2,2,2,1,2,3],
     [1,1,1,1,2,4,7,11,14,16,18,18,17,15,13,8,5,2,1,1,1,1,1,2],
     [1,1,1,0,1,3,5,8,11,13,14,14,13,11,9,6,3,1,1,0,0,0,1,1],
     [0,0,0,0,0,1,2,4,6,7,8,8,7,6,5,3,1,0,0,0,0,0,0,0]],
    [[3,3,1,1,2,3,5,10,15,18,20,18,22,25,34,28,20,15,5,3,2,2,3,3],
     [1,1,0,0,0,1,1,2,4,5,6,5,6,7,10,8,5,3,1,0,0,0,0,0],
     [0,0,0,0,0,0,0,1,1,2,2,2,2,3,4,3,2,1,0,0,0,0,0,0]],
]
POST_ANIMAL = [
    [[1,1,0,0,1,1,2,2,1,1,0,1,0,1,0,1,2,0,1,0,0,0,0,0]],
    [[0,0,0,0,0,1,1,0,0,0,0,0,0,0,0,0,0,2,2,0,0,0,0,0]],
    [[0,0,0,0,1,0,0,2,1,1,0,0,0,0,1,1,1,0,0,0,0,0,0,0]],
    [[0,0,0,0,0,0,0,1,2,2,3,1,1,0,0,1,1,0,1,1,0,0,0,0]],
]

GROUPS = [
    [PRE_PEOPLE, PRE_TWO_WHEELERS, PRE_SMALL_VEHICLES, PRE_LARGE_VEHICLES,
     PRE_MARKET, PRE_REFUSE, PRE_ANIMAL],
    [LOCK_PEOPLE, LOCK_TWO_WHEELERS, LOCK_SMALL_VEHICLES, LOCK_LARGE_VEHICLES,
     LOCK_MARKET, LOCK_REFUSE, LOCK_ANIMAL],
    [POST_PEOPLE, POST_TWO_WHEELERS, POST_SMALL_VEHICLES, POST_LARGE_VEHICLES,
     POST_MARKET, POST_REFUSE, POST_ANIMAL],
]

# layout in pixels
W, H = 1304, 1505
COL_X = [[18, 122, 227, 330], [449, 552, 655, 760], [884, 987, 1090, 1194]]
COL_W = 94
ROW_TOP = [80, 263, 455, 647, 838, 1030, 1222]
ROW_H = [142, 151, 151, 151, 152, 152, 144]
GROUP_X = [8, 437, 872]
EDGES = np.arange(25) - 0.5


def rect(x, y, w, h):
    return [x / W, 1 - (y + h) / H, w / W, h / H]


def panel_tops(panel):
    arr = np.zeros((8, 24))
    for i, row in enumerate(panel):
        row = list(row)[:24] + [0] * (24 - len(row))
        arr[i] = row
    arr = np.clip(arr, 0, 100)
    arr = np.minimum.accumulate(arr, axis=0)
    return arr / 100.0


fig = plt.figure(figsize=(W / 100, H / 100), dpi=100)

for g in range(3):
    for r in range(7):
        for c in range(4):
            ax = fig.add_axes(rect(COL_X[g][c], ROW_TOP[r], COL_W, ROW_H[r]))
            ax.set_facecolor(COLOURS[0])
            t = panel_tops(GROUPS[g][r][c])
            # each threshold filled from 0 to its cumulative top, tallest first,
            # so later (higher count) layers sit on the lower part of the stack
            for k in range(8):
                if t[k].max() <= 0:
                    continue
                ax.stairs(t[k], EDGES, baseline=0, fill=True, color=COLOURS[k + 1],
                          linewidth=0)
            ax.set_xlim(-0.5, 23.5)
            ax.set_ylim(0, 1)
            ax.set_xticks(range(0, 24, 2))
            ax.set_xticklabels([str(h) for h in range(0, 24, 2)], rotation=90, fontsize=5)
            ax.set_yticks(np.linspace(0, 1, 6))
            ax.set_yticklabels(["%.1f" % v for v in np.linspace(0, 1, 6)], fontsize=2)
            ax.tick_params(axis="both", length=2, width=0.5, pad=1)
            for s in ax.spines.values():
                s.set_linewidth(0.9)
                s.set_zorder(5)
            if c == 0:
                ax.set_ylabel(r"Proportion of $\bf{all}$ recorded counts", fontsize=3.6, labelpad=2)
            if r == 6:
                ax.set_xlabel("Hour of day", fontsize=5.5, labelpad=2)
            if r == 0:
                fig.text((COL_X[g][c] + COL_W / 2) / W, 1 - 61 / H, LANDUSES[c],
                         fontsize=6.3, ha="center", va="bottom", linespacing=1.15)
        fig.text(GROUP_X[g] / W, 1 - (ROW_TOP[r] - 4) / H, OBJECTS[r],
                 fontsize=8.5, ha="left", va="bottom")

fig.text(10 / W, 1 - 20 / H, PERIODS[0], fontsize=21, ha="left", va="center")
fig.text(645 / W, 1 - 20 / H, PERIODS[1], fontsize=21, ha="center", va="center")
fig.text(1288 / W, 1 - 20 / H, PERIODS[2], fontsize=21, ha="right", va="center")

handles = [Patch(facecolor=col, edgecolor="none", label=lab) for col, lab in zip(COLOURS, CATEGORIES)]
leg = fig.legend(handles=handles, loc="center", bbox_to_anchor=(648 / W, 1 - 1463 / H),
                 ncol=3, fontsize=9, title="Categories of\nnon-zero counts and zeros",
                 title_fontsize=6.5, frameon=True, handlelength=2.4, handleheight=0.8,
                 columnspacing=1.2, labelspacing=0.25, borderpad=0.5)
leg.get_title().set_multialignment("left")
leg.get_frame().set_edgecolor("#aaaaaa")

fig.savefig("out.png", dpi=100)
